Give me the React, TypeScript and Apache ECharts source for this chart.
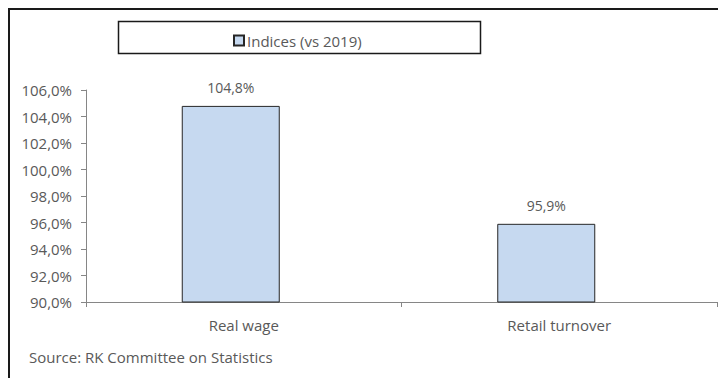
import React, { useEffect, useRef } from "react";
import * as echarts from "echarts";

const categories: string[] = ["Real wage", "Retail turnover"];
const seriesName = "Indices (vs 2019)";
const values: number[] = [104.8, 95.9];
const yMin = 90;
const yMax = 106;
const yStep = 2;
const sourceText = "Source: RK Committee on Statistics";

const FONT = "'Open Sans', sans-serif";
const TEXT = "#595959";
const AXIS = "#868686";

const fmt = (v: number) => v.toFixed(1).replace(".", ",") + "%";

export default function App() {
  const ref = useRef<HTMLDivElement>(null);
  useEffect(() => {
    if (!ref.current) return;
    const chart = echarts.init(ref.current, undefined, { renderer: "svg" });
    chart.setOption({
      animation: false,
      backgroundColor: "#ffffff",
      textStyle: { fontFamily: FONT },
      grid: { left: 86, right: 1, top: 90, bottom: 76, containLabel: false },
      legend: {
        data: [seriesName],
        left: 228,
        top: 28,
        icon: "rect",
        itemWidth: 10,
        itemHeight: 10,
        itemGap: 4,
        textStyle: { color: TEXT, fontSize: 15, fontFamily: FONT, padding: [0, 0, 0, -2] },
      },
      xAxis: {
        type: "category",
        data: categories,
        axisLine: { lineStyle: { color: AXIS, width: 1 } },
        axisTick: { show: true, length: 5, lineStyle: { color: AXIS } },
        axisLabel: { color: TEXT, fontSize: 15, fontFamily: FONT, margin: 15 },
      },
      yAxis: {
        type: "value",
        min: yMin,
        max: yMax,
        interval: yStep,
        axisLine: { show: true, lineStyle: { color: AXIS, width: 1 } },
        axisTick: { show: true, length: 5, inside: false, lineStyle: { color: AXIS } },
        splitLine: { show: false },
        axisLabel: { color: TEXT, fontSize: 15, fontFamily: FONT, margin: 14, formatter: fmt },
      },
      series: [
        {
          name: seriesName,
          type: "bar",
          data: values,
          barWidth: 98,
          barGap: "0%",
          itemStyle: { color: "#C6D9F0", borderColor: "#262626", borderWidth: 1 },
          label: {
            show: true,
            position: "top",
            distance: 11,
            color: TEXT,
            fontSize: 14,
            fontFamily: FONT,
            formatter: (p: any) => fmt(p.value),
          },
        },
        {
          name: "spacer",
          type: "bar",
          data: ["-", "-"],
          barWidth: 26,
          barGap: "0%",
          silent: true,
        },
      ],
      graphic: [
        {
          type: "rect",
          shape: { x: 9, y: 9, width: 730, height: 400 },
          style: { fill: "none", stroke: "#1a1a1a", lineWidth: 2 },
          silent: true,
        },
        {
          type: "rect",
          shape: { x: 118.5, y: 21.5, width: 362, height: 32 },
          style: { fill: "none", stroke: "#1a1a1a", lineWidth: 1.5 },
          silent: true,
        },
        {
          type: "text",
          left: 29,
          top: 349,
          style: { text: sourceText, fill: TEXT, fontSize: 15, fontFamily: FONT },
          silent: true,
        },
      ],
    });
    return () => chart.dispose();
  }, []);
  return (
    <div
      ref={ref}
      style={{ position: "fixed", left: 0, top: 0, width: 718, height: 378 }}
    />
  );
}
